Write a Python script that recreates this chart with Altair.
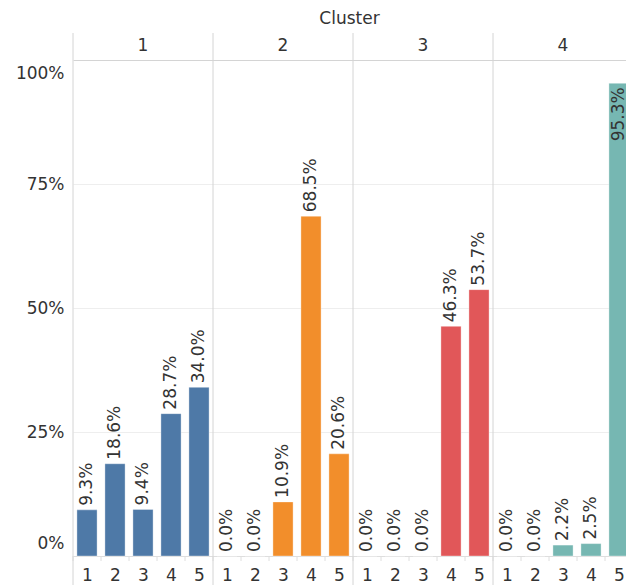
import altair as alt
import pandas as pd

# Share of each level (1-5) within each cluster
clusters = ["1", "2", "3", "4"]
levels = ["1", "2", "3", "4", "5"]
share_c1 = [0.093, 0.186, 0.094, 0.287, 0.340]
share_c2 = [0.000, 0.000, 0.109, 0.685, 0.206]
share_c3 = [0.000, 0.000, 0.000, 0.463, 0.537]
share_c4 = [0.000, 0.000, 0.022, 0.025, 0.953]
cluster_colors = ["#4e79a7", "#f28e2b", "#e15759", "#76b7b2"]

shares = [share_c1, share_c2, share_c3, share_c4]
df = pd.DataFrame(
    [
        {"Cluster": c, "Level": l, "Share": v}
        for c, vals in zip(clusters, shares)
        for l, v in zip(levels, vals)
    ]
)

FONT = "DejaVu Sans"
TEXT = "#333333"
LINE = "#d4d4d4"
W, H = 553, 496
STEP = 28  # pixels per level slot; 5 slots per cluster panel

x_scale = alt.Scale(domain=[0, W / STEP], nice=False, zero=False)
y_scale = alt.Scale(domain=[0, 1], nice=False, zero=True)

base = (
    alt.Chart(df)
    .transform_calculate(
        slot="(toNumber(datum.Cluster) - 1) * 5 + toNumber(datum.Level) - 1"
    )
    .transform_calculate(
        left="datum.slot + 0.14",
        right="datum.slot + 0.86",
        mid="datum.slot + 0.5",
    )
)

x_axis = alt.Axis(
    values=[i + 0.5 for i in range(len(clusters) * len(levels))],
    labelExpr="floor(datum.value) % 5 + 1",
    labelOverlap=False,
    labelBound=False,
    title=None,
    grid=False,
    ticks=False,
    domain=True,
    domainColor="#dedede",
    labelFont=FONT,
    labelFontSize=17,
    labelColor=TEXT,
    labelPadding=11,
)
y_axis = alt.Axis(
    values=[0, 0.25, 0.5, 0.75, 1.0],
    format=".0%",
    title=None,
    ticks=False,
    domain=False,
    gridColor={"condition": {"test": "datum.value === 1", "value": LINE}, "value": "#eeeeee"},
    labelFont=FONT,
    labelFontSize=17,
    labelColor=TEXT,
    labelPadding=9,
    labelBaseline="middle",
    labelOffset={
        "condition": [
            {"test": "datum.value === 1", "value": 13},
            {"test": "datum.value === 0", "value": -13},
        ],
        "value": 0,
    },
)

X_left = alt.X("left:Q", scale=x_scale, axis=x_axis)
X_mid = alt.X("mid:Q", scale=x_scale, axis=x_axis)
X_slot = alt.X("slot:Q", scale=x_scale, axis=x_axis)
Y_share = alt.Y("Share:Q", scale=y_scale, axis=y_axis)

bars = base.mark_bar(stroke="white", strokeOpacity=0.35, strokeWidth=1).encode(
    x=X_left,
    x2="right:Q",
    y=Y_share,
    y2=alt.Y2(datum=0),
    color=alt.Color(
        "Cluster:N",
        scale=alt.Scale(domain=clusters, range=cluster_colors),
        legend=None,
    ),
)

label_style = dict(angle=270, baseline="middle", font=FONT, fontSize=17, color=TEXT)

# value labels above the bar top, or just inside it when the bar is nearly full
labels_above = (
    base.transform_filter("datum.Share < 0.9")
    .mark_text(align="left", dx=4, **label_style)
    .encode(x=X_mid, y=Y_share, text=alt.Text("Share:Q", format=".1%"))
)
labels_inside = (
    base.transform_filter("datum.Share >= 0.9")
    .mark_text(align="right", dx=-4, **label_style)
    .encode(x=X_mid, y=Y_share, text=alt.Text("Share:Q", format=".1%"))
)

# small ticks between level slots on the baseline
slot_ticks = base.mark_rule(color="#dedede", strokeWidth=1).encode(
    x=X_slot,
    y=alt.value(H),
    y2=alt.value(H + 5),
)

# vertical separators between cluster panels, running through header and labels
separators = (
    base.transform_filter("datum.Level == '1'")
    .mark_rule(color=LINE, strokeWidth=1)
    .encode(
        x=X_slot,
        y=alt.value(-27),
        y2=alt.value(H + 29),
    )
)

headers = (
    base.transform_filter("datum.Level == '3'")
    .mark_text(font=FONT, fontSize=17, color=TEXT, baseline="middle")
    .encode(
        x=X_mid,
        y=alt.value(-14),
        text="Cluster:N",
    )
)

chart = (
    alt.layer(bars, slot_ticks, separators, headers, labels_above, labels_inside)
    .properties(
        width=W,
        height=H,
        autosize="none",
        padding={"left": 73, "top": 60, "right": 0, "bottom": 29},
        title=alt.TitleParams(
            "Cluster",
            anchor="middle",
            frame="group",
            offset=5,
            font=FONT,
            fontSize=17,
            fontWeight="normal",
            color=TEXT,
        ),
    )
    .configure_view(stroke=None)
    .configure_axisX(labelOverlap=False)
)

chart.save("out.html", embed_options={"renderer": "svg", "actions": False})
